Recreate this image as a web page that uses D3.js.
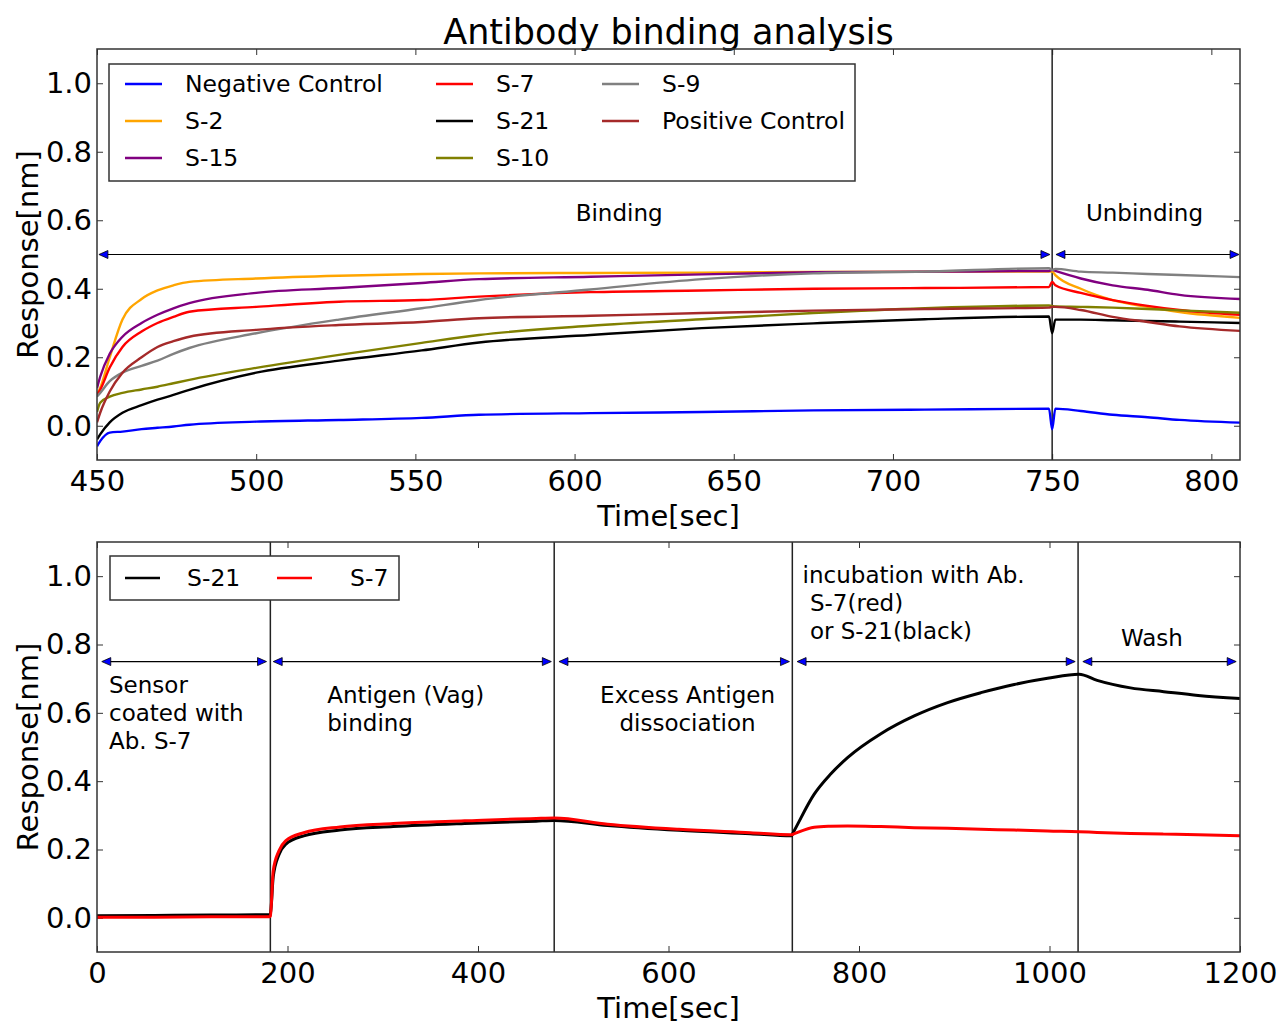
<!DOCTYPE html>
<html>
<head>
<meta charset="utf-8">
<script src="https://cdn.jsdelivr.net/npm/d3@7"></script>
<style>
  body { margin: 0; background: #fff; }
  text { font-family: "DejaVu Sans", sans-serif; fill: #000; }
</style>
</head>
<body>
<div id="chart"></div>
<script>
// ---- top panel: binding / unbinding (readings from the plot) ----
const topTimes = [450, 451, 454, 458, 464, 469, 474, 479, 500, 526, 552, 570, 605, 640, 675, 710, 749, 750, 751, 759, 769, 780, 790, 809];
const negControl = [-0.06, -0.045, -0.02, -0.017, -0.01, -0.006, -0.002, 0.003, 0.012, 0.017, 0.023, 0.032, 0.037, 0.040, 0.045, 0.047, 0.050, -0.01, 0.050, 0.043, 0.032, 0.025, 0.017, 0.009];
const s2 = [0.09, 0.11, 0.20, 0.31, 0.37, 0.395, 0.41, 0.42, 0.43, 0.438, 0.443, 0.445, 0.446, 0.447, 0.449, 0.450, 0.450, 0.45, 0.44, 0.40, 0.367, 0.347, 0.332, 0.315];
const s15 = [0.11, 0.143, 0.21, 0.26, 0.30, 0.324, 0.343, 0.358, 0.388, 0.402, 0.417, 0.428, 0.435, 0.442, 0.448, 0.450, 0.452, 0.455, 0.452, 0.43, 0.41, 0.397, 0.382, 0.37];
const s7 = [0.09, 0.105, 0.17, 0.23, 0.275, 0.30, 0.318, 0.333, 0.347, 0.362, 0.367, 0.377, 0.39, 0.395, 0.40, 0.402, 0.405, 0.42, 0.41, 0.388, 0.367, 0.35, 0.338, 0.324];
const s21 = [-0.04, -0.025, 0.01, 0.038, 0.06, 0.076, 0.09, 0.105, 0.155, 0.19, 0.22, 0.243, 0.265, 0.285, 0.299, 0.311, 0.319, 0.27, 0.31, 0.31, 0.308, 0.306, 0.304, 0.30];
const s10 = [0.04, 0.067, 0.085, 0.096, 0.106, 0.114, 0.124, 0.134, 0.169, 0.207, 0.242, 0.265, 0.292, 0.311, 0.329, 0.343, 0.351, 0.35, 0.348, 0.347, 0.345, 0.341, 0.337, 0.33];
const s9 = [0.085, 0.096, 0.13, 0.155, 0.175, 0.19, 0.21, 0.227, 0.27, 0.31, 0.343, 0.367, 0.398, 0.428, 0.445, 0.450, 0.46, 0.455, 0.458, 0.45, 0.447, 0.443, 0.44, 0.434];
const posControl = [0.01, 0.038, 0.10, 0.155, 0.20, 0.23, 0.247, 0.26, 0.28, 0.294, 0.303, 0.314, 0.321, 0.329, 0.336, 0.341, 0.345, 0.347, 0.347, 0.338, 0.318, 0.303, 0.29, 0.277];

const topNames = ["Negative Control", "S-2", "S-15", "S-7", "S-21", "S-10", "S-9", "Positive Control"];
const topColors = ["#0000ff", "#ffa500", "#800080", "#ff0000", "#000000", "#808000", "#808080", "#a52a2a"];
const topValues = [negControl, s2, s15, s7, s21, s10, s9, posControl];

const topXTicks = [450, 500, 550, 600, 650, 700, 750, 800];
const yTicks = [0.0, 0.2, 0.4, 0.6, 0.8, 1.0];
const topPhaseLines = [750];
const topArrowLevel = 0.5;
const topArrows = [[450.6, 749.3], [751.2, 808.7]];
const topNotes = [
  {x: 614, y: 0.62, lines: ["Binding"], anchor: "middle"},
  {x: 779, y: 0.62, lines: ["Unbinding"], anchor: "middle"}
];

// ---- bottom panel: sandwich assay ----
const botTimes = [0, 60, 120, 181, 182, 185, 191, 198, 217, 255, 311, 386, 461, 480, 536, 611, 686, 729, 731, 753, 770, 788, 823, 858, 893, 928, 963, 998, 1031, 1050, 1085, 1120, 1156, 1200];
const botS21 = [0.006, 0.007, 0.008, 0.009, 0.01, 0.12, 0.185, 0.215, 0.24, 0.257, 0.267, 0.276, 0.283, 0.285, 0.27, 0.256, 0.246, 0.24, 0.25, 0.362, 0.42, 0.469, 0.539, 0.591, 0.63, 0.659, 0.683, 0.701, 0.713, 0.695, 0.673, 0.662, 0.651, 0.642];
const botS7 = [0.002, 0.002, 0.003, 0.003, 0.005, 0.137, 0.196, 0.225, 0.249, 0.266, 0.276, 0.284, 0.291, 0.292, 0.274, 0.259, 0.249, 0.243, 0.245, 0.265, 0.268, 0.269, 0.267, 0.264, 0.262, 0.259, 0.257, 0.254, 0.252, 0.25, 0.247, 0.245, 0.243, 0.24];

const botNames = ["S-21", "S-7"];
const botColors = ["#000000", "#ff0000"];
const botValues = [botS21, botS7];

const botXTicks = [0, 200, 400, 600, 800, 1000, 1200];
const botPhaseLines = [182, 480, 730, 1030];
const botArrowLevel = 0.75;
const botArrows = [[5, 178], [185, 477], [485, 727], [735, 1027], [1035, 1196]];
const botNotes = [
  {x: 12.6, y: 0.681, lines: ["Sensor", "coated with", "Ab. S-7"], anchor: "start"},
  {x: 241.7, y: 0.652, lines: ["Antigen (Vag)", "binding"], anchor: "start"},
  {x: 620, y: 0.652, lines: ["Excess Antigen", "dissociation"], anchor: "middle"},
  {x: 740.8, y: 1.003, lines: ["incubation with Ab.", " S-7(red)", " or S-21(black)"], anchor: "start"},
  {x: 1107.5, y: 0.819, lines: ["Wash"], anchor: "middle"}
];

const W = 1280, H = 1023;
const svg = d3.select("#chart").append("svg")
  .attr("width", W)
  .attr("height", H);

svg.append("text")
  .attr("x", 668.5)
  .attr("y", 44)
  .attr("text-anchor", "middle")
  .style("font-size", "35px")
  .text("Antibody binding analysis");

function drawPanel(p) {
  const x = d3.scaleLinear().domain(p.xDomain).range([p.left, p.right]);
  const y = d3.scaleLinear().domain([-0.1, 1.1]).range([p.bottom, p.top]);
  const g = svg.append("g");

  g.append("clipPath").attr("id", p.id + "-clip")
    .append("rect")
    .attr("x", p.left).attr("y", p.top)
    .attr("width", p.right - p.left).attr("height", p.bottom - p.top);

  // ticks pointing inward, on all four sides (classic matplotlib look)
  const tickLen = 6;
  g.append("g")
    .attr("transform", `translate(0,${p.bottom})`)
    .call(d3.axisBottom(x).tickValues(p.xTicks).tickSize(-tickLen).tickFormat(d3.format("d")))
    .call(a => a.select(".domain").remove())
    .call(a => a.selectAll("text").attr("y", 10).style("font-size", "29px").style("font-family", "DejaVu Sans"));
  g.append("g")
    .attr("transform", `translate(0,${p.top})`)
    .call(d3.axisTop(x).tickValues(p.xTicks).tickSize(-tickLen).tickFormat(""))
    .call(a => a.select(".domain").remove());
  g.append("g")
    .attr("transform", `translate(${p.left},0)`)
    .call(d3.axisLeft(y).tickValues(yTicks).tickSize(-tickLen).tickFormat(d3.format(".1f")))
    .call(a => a.select(".domain").remove())
    .call(a => a.selectAll("text").attr("x", -5).style("font-size", "29px").style("font-family", "DejaVu Sans"));
  g.append("g")
    .attr("transform", `translate(${p.right},0)`)
    .call(d3.axisRight(y).tickValues(yTicks).tickSize(-tickLen).tickFormat(""))
    .call(a => a.select(".domain").remove());
  g.selectAll(".tick line").attr("stroke", "#333");

  // phase separators
  g.selectAll(".phase")
    .data(p.phaseLines)
    .enter().append("line")
    .attr("class", "phase")
    .attr("x1", d => x(d)).attr("x2", d => x(d))
    .attr("y1", p.top).attr("y2", p.bottom)
    .attr("stroke", "#222")
    .attr("stroke-width", 1.5);

  // data lines
  const line = d3.line()
    .x((d, i) => x(p.times[i]))
    .y(d => y(d))
    .curve(d3.curveMonotoneX);

  g.append("g")
    .attr("clip-path", `url(#${p.id}-clip)`)
    .selectAll("path")
    .data(p.values)
    .enter().append("path")
    .attr("d", d => line(d))
    .attr("fill", "none")
    .attr("stroke", (d, i) => p.colors[i])
    .attr("stroke-width", p.lineWidth)
    .attr("stroke-linejoin", "round");

  // double headed arrows
  const ay = y(p.arrowLevel);
  const arrows = g.selectAll(".arrow")
    .data(p.arrows)
    .enter().append("g")
    .attr("class", "arrow");
  arrows.append("line")
    .attr("x1", d => x(d[0]) + 4).attr("x2", d => x(d[1]) - 4)
    .attr("y1", ay).attr("y2", ay)
    .attr("stroke", "#000")
    .attr("stroke-width", 1.2);
  arrows.append("path")
    .attr("d", d => {
      const a = x(d[0]), b = x(d[1]);
      return `M${a},${ay}L${a + 9},${ay - 4}L${a + 9},${ay + 4}Z` +
             `M${b},${ay}L${b - 9},${ay - 4}L${b - 9},${ay + 4}Z`;
    })
    .attr("fill", "#0000ff")
    .attr("stroke", "#000")
    .attr("stroke-width", 0.8);

  // annotations
  p.notes.forEach(n => {
    const t = g.append("text")
      .attr("x", x(n.x))
      .attr("y", y(n.y))
      .attr("text-anchor", n.anchor)
      .style("font-size", "23px")
      .style("white-space", "pre")
      .attr("xml:space", "preserve");
    n.lines.forEach((s, i) => {
      t.append("tspan")
        .attr("x", x(n.x))
        .attr("dy", i === 0 ? "0.35em" : 28)
        .text(s);
    });
  });

  // frame
  g.append("rect")
    .attr("x", p.left).attr("y", p.top)
    .attr("width", p.right - p.left).attr("height", p.bottom - p.top)
    .attr("fill", "none")
    .attr("stroke", "#333")
    .attr("stroke-width", 1.5);

  // legend
  const lg = g.append("g");
  lg.append("rect")
    .attr("x", p.legend.x).attr("y", p.legend.y)
    .attr("width", p.legend.w).attr("height", p.legend.h)
    .attr("fill", "#fff")
    .attr("stroke", "#333")
    .attr("stroke-width", 1.5);
  p.names.forEach((name, i) => {
    const col = Math.floor(i / p.legend.rows);
    const row = i % p.legend.rows;
    const cy = p.legend.y + p.legend.firstRow + row * 37;
    const lx = p.legend.lineX[col];
    lg.append("line")
      .attr("x1", lx).attr("x2", lx + p.legend.lineLen)
      .attr("y1", cy).attr("y2", cy)
      .attr("stroke", p.colors[i])
      .attr("stroke-width", 2.5);
    lg.append("text")
      .attr("x", p.legend.textX[col])
      .attr("y", cy)
      .attr("dy", "0.35em")
      .style("font-size", "23.5px")
      .text(name);
  });

  // axis labels
  svg.append("text")
    .attr("x", (p.left + p.right) / 2)
    .attr("y", p.bottom + 66)
    .attr("text-anchor", "middle")
    .style("font-size", "29px")
    .text("Time[sec]");
  svg.append("text")
    .attr("transform", `translate(38,${(p.top + p.bottom) / 2}) rotate(-90)`)
    .attr("text-anchor", "middle")
    .style("font-size", "29px")
    .text("Response[nm]");
}

drawPanel({
  id: "top",
  left: 97, right: 1240, top: 49, bottom: 460,
  xDomain: [450, 809],
  xTicks: topXTicks,
  times: topTimes,
  values: topValues,
  colors: topColors,
  names: topNames,
  lineWidth: 2.4,
  phaseLines: topPhaseLines,
  arrowLevel: topArrowLevel,
  arrows: topArrows,
  notes: topNotes,
  legend: {x: 109, y: 64, w: 746, h: 117, rows: 3, firstRow: 20,
           lineX: [125, 436, 602], lineLen: 37, textX: [185, 496, 662]}
});

drawPanel({
  id: "bot",
  left: 97, right: 1240, top: 542, bottom: 952,
  xDomain: [0, 1200],
  xTicks: botXTicks,
  times: botTimes,
  values: botValues,
  colors: botColors,
  names: botNames,
  lineWidth: 3,
  phaseLines: botPhaseLines,
  arrowLevel: botArrowLevel,
  arrows: botArrows,
  notes: botNotes,
  legend: {x: 110, y: 556, w: 289, h: 44, rows: 1, firstRow: 22,
           lineX: [125, 277], lineLen: 35, textX: [187, 350]}
});
</script>
</body>
</html>
